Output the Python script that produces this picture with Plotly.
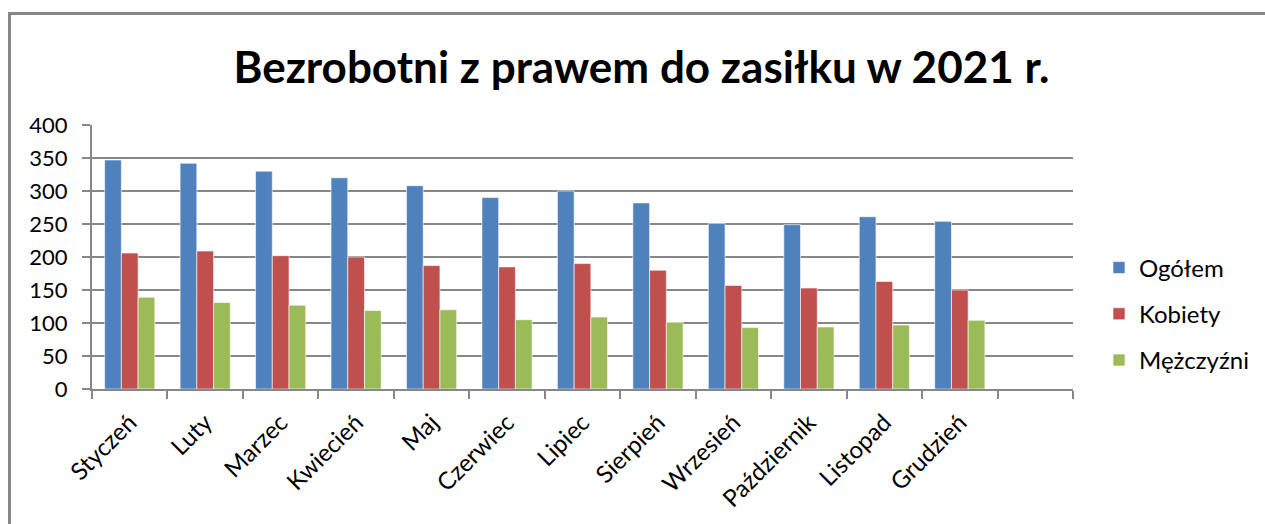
import plotly.graph_objects as go

categories = ["Styczeń", "Luty", "Marzec", "Kwiecień", "Maj", "Czerwiec", "Lipiec",
              "Sierpień", "Wrzesień", "Październik", "Listopad", "Grudzień", " "]
ogolem = [347, 342, 330, 320, 308, 290, 300, 282, 251, 249, 261, 254, None]
kobiety = [206, 209, 202, 200, 187, 185, 190, 180, 157, 153, 163, 150, None]
mezczyzni = [139, 131, 127, 119, 120, 105, 109, 101, 93, 94, 97, 104, None]

W, H = 1265, 524
L, R, T, B = 92, 1073, 125, 389
FONT = "Lato"

def px(x):
    return (x - L) / (R - L)

def py(y):
    return (B - y) / (B - T)

fig = go.Figure()
for name, vals, col in [("Ogółem", ogolem, "#4F81BD"),
                        ("Kobiety", kobiety, "#C0504D"),
                        ("Mężczyźni", mezczyzni, "#9BBB59")]:
    fig.add_trace(go.Bar(x=categories, y=vals, name=name, legendgroup=name,
                         marker=dict(color=col, line=dict(color="rgba(255,255,255,0.6)", width=1))))

fig.update_layout(
    width=W, height=H,
    margin=dict(l=L, r=W - R, t=T, b=H - B, autoexpand=False),
    paper_bgcolor="white", plot_bgcolor="white",
    barmode="group", bargap=0.335, bargroupgap=0,
    font=dict(family=FONT, color="black"),
    title=dict(text="<b>Bezrobotni z prawem do zasiłku w 2021 r.</b>",
               xref="container", x=641.5 / W, xanchor="center",
               y=1 - 68 / H, yanchor="middle",
               font=dict(size=44, family=FONT, color="black")),
    legend=dict(x=px(1099), xanchor="left", y=py(314), yanchor="middle",
                font=dict(size=24, family=FONT), tracegroupgap=12,
                traceorder="grouped", itemwidth=30, bgcolor="rgba(0,0,0,0)"),
    showlegend=True,
)

fig.update_xaxes(
    type="category", showgrid=False, showline=True, linecolor="#878787", linewidth=2,
    ticks="outside", tickson="boundaries", ticklen=8, tickcolor="#878787", tickwidth=2,
    tickangle=-45, tickfont=dict(size=24, family=FONT), range=[-0.5, 12.5],
    ticklabelstandoff=8,
)
fig.update_yaxes(
    range=[0, 400], dtick=50, showgrid=True, gridcolor="#878787", gridwidth=2,
    showline=True, linecolor="#878787", linewidth=2, ticks="outside", ticklen=8,
    tickcolor="#878787", tickwidth=2, tickfont=dict(size=22, family=FONT),
    zeroline=False, ticklabelstandoff=10,
)

# outer chart border (left and top)
fig.add_shape(type="line", xref="paper", yref="paper",
              x0=px(9.5), y0=py(H + 5), x1=px(9.5), y1=py(13.5),
              line=dict(color="#878787", width=3))
fig.add_shape(type="line", xref="paper", yref="paper",
              x0=px(8), y0=py(13.5), x1=px(W + 5), y1=py(13.5),
              line=dict(color="#878787", width=3))

fig.write_html("out.html", config={"displayModeBar": False},
               post_script="document.body.style.margin='0';document.body.style.overflow='hidden';")
